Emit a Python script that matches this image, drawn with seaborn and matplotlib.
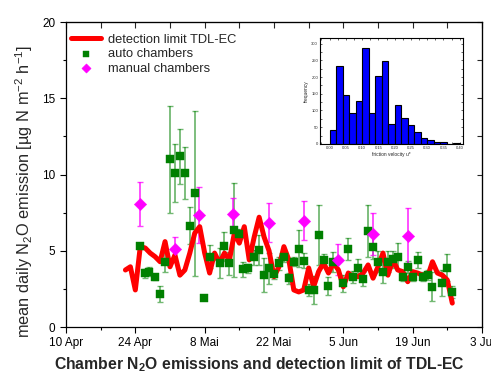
import matplotlib
matplotlib.use("Agg")
import matplotlib.pyplot as plt
import seaborn as sns
import pandas as pd
from matplotlib.ticker import MultipleLocator

# ── data (x = days after 10 Apr) ─────────────────────────────
tick_days   = [0, 14, 28, 42, 56, 70, 84]
tick_labels = ["10 Apr", "24 Apr", "8 Mai", "22 Mai", "5 Jun", "19 Jun", "3 Jul"]

limit_day = list(range(12, 79))
limit_val = [3.74, 3.95, 2.43, 5.27, 5.18, 4.85, 4.61, 4.28, 5.6, 3.95,
             4.72, 3.4, 3.74, 4.85, 6.16, 6.58, 4.85, 3.54, 4.85, 4.2,
             4.85, 4.4, 6.16, 5.5, 6.58, 4.4, 5.9, 7.2, 5.9, 5.0,
             3.3, 3.95, 5.27, 4.4, 2.43, 2.3, 2.43, 3.87, 2.64, 3.63,
             4.2, 3.54, 4.2, 3.74, 2.64, 3.54, 3.3, 3.3, 3.54, 4.07,
             3.2, 3.95, 4.85, 3.4, 4.4, 3.74, 3.63, 2.97, 3.63, 3.54,
             3.4, 3.3, 4.28, 3.54, 3.4, 3.08, 1.57]

auto_day = [14.9, 16, 16.8, 18, 19, 20, 21, 22, 23, 24, 25, 26, 27.9, 29, 31,
            32, 33, 34, 35, 35.8, 36.8, 38, 39, 40, 41, 42, 43, 44, 45, 46,
            47, 48, 49, 50, 51, 52, 53, 54, 56, 57, 58, 59, 60, 61, 62, 63,
            64, 65, 66, 67, 68, 69, 70, 71, 72, 73, 74, 76, 77, 78]
auto_val = [5.33, 3.52, 3.63, 3.26, 2.16, 4.28, 11.0, 10.08, 11.2, 10.08, 6.64,
            8.77, 1.92, 4.61, 4.2, 5.3, 4.17, 6.36, 6.1, 3.78, 3.85, 4.56,
            5.05, 3.4, 3.85, 3.45, 4.17, 4.56, 3.19, 4.28, 5.14, 4.35, 2.43,
            2.43, 6.03, 4.4, 2.69, 4.28, 2.86, 5.11, 3.26, 3.85, 3.13, 6.32,
            5.27, 4.28, 3.63, 4.28, 4.43, 4.61, 3.3, 3.91, 3.3, 4.4, 3.3,
            3.41, 2.64, 2.91, 3.89, 2.32]
auto_err = [0.2, 0.3, 0.3, 0.2, 0.5, 0.7, 3.5, 1.9, 1.8, 1.7, 1.2, 5.4, 0.0,
            0.77, 1.0, 0.95, 0.75, 3.1, 0.3, 0.5, 0.3, 0.5, 1.0, 1.1, 1.0,
            0.3, 0.4, 0.3, 0.35, 0.3, 1.2, 0.5, 0.4, 0.9, 1.95, 0.4, 0.6,
            0.65, 0.55, 0.7, 0.4, 0.6, 0.45, 1.7, 0.8, 0.7, 0.75, 0.7, 0.55,
            0.9, 0.3, 0.4, 0.3, 0.5, 0.3, 0.3, 0.95, 0.85, 0.9, 0.4]

manual_day = [14.9, 22, 26.9, 33.8, 41, 48, 55, 62, 69]
manual_val = [8.07, 5.11, 7.34, 7.38, 6.84, 6.98, 4.4, 6.1, 6.0]
manual_err = [1.47, 0.82, 1.86, 1.1, 1.26, 1.3, 1.02, 1.4, 1.78]

# inset histogram of friction velocity
ustar_edges  = [round(0.02 * i, 2) for i in range(21)]
ustar_counts = [43, 233, 147, 92, 128, 288, 92, 202, 248, 61,
                116, 78, 57, 35, 18, 13, 6, 6, 0, 3]

# ── figure ────────────────────────────────────────────────────
sns.set_style("white")
plt.rcParams["font.family"] = ["Liberation Sans", "DejaVu Sans"]
plt.rcParams["mathtext.fontset"] = "custom"
plt.rcParams["mathtext.rm"] = "Liberation Sans"
plt.rcParams["mathtext.bf"] = "Liberation Sans:bold"

fig = plt.figure(figsize=(4.91, 3.86), dpi=100)
ax = fig.add_axes([0.1344, 0.1528, 0.8473, 0.7902])

ax.errorbar(auto_day, auto_val, yerr=auto_err, fmt="none",
            ecolor=(0.0, 0.5, 0.0, 0.55), elinewidth=1.3, capsize=2.5,
            capthick=1.0, zorder=2)
ax.errorbar(manual_day, manual_val, yerr=manual_err, fmt="none",
            ecolor=(1.0, 0.0, 1.0, 0.75), elinewidth=1.3, capsize=2.5,
            capthick=1.0, zorder=2)

limit_df = pd.DataFrame({"day": limit_day, "val": limit_val})
sns.lineplot(data=limit_df, x="day", y="val", color="#ff0000", linewidth=3.6,
             label="detection limit TDL-EC", ax=ax, zorder=3)
sns.scatterplot(x=auto_day, y=auto_val, marker="s", s=38, color="#008000",
                edgecolor="#008000", linewidth=0.3, label="auto chambers",
                ax=ax, zorder=4)
sns.scatterplot(x=manual_day, y=manual_val, marker="D", s=40, color="#ff00ff",
                edgecolor="#ff00ff", linewidth=0.3, label="manual chambers",
                ax=ax, zorder=5)

ax.set_xlim(0, 84)
ax.set_ylim(0, 20)
ax.set_xticks(tick_days)
ax.set_xticklabels(tick_labels)
ax.xaxis.set_minor_locator(MultipleLocator(7))
ax.yaxis.set_major_locator(MultipleLocator(5))
ax.yaxis.set_minor_locator(MultipleLocator(2.5))
ax.tick_params(which="both", direction="out", bottom=True, left=True,
               labelsize=8.5, width=0.8, colors="black")
ax.tick_params(which="major", length=4)
ax.tick_params(which="minor", length=2.5)
for s in ax.spines.values():
    s.set_color("black"); s.set_linewidth(0.9)

# inward ticks on top and right
top = ax.secondary_xaxis("top")
top.set_xticks(tick_days); top.set_xticklabels([])
top.xaxis.set_minor_locator(MultipleLocator(7))
top.tick_params(which="both", direction="in", length=4, width=0.8)
right = ax.secondary_yaxis("right")
right.yaxis.set_major_locator(MultipleLocator(5))
right.yaxis.set_minor_locator(MultipleLocator(2.5))
right.set_yticklabels([])
right.tick_params(which="both", direction="in", length=3.5, width=0.8)

ax.set_ylabel(r"mean daily N$_2$O emission [µg N m$^{-2}$ h$^{-1}$]",
              fontsize=11.8)
ax.yaxis.set_label_coords(-0.075, 0.444)
ax.set_xlabel(r"Chamber N$_\mathbf{2}$O emissions and detection limit of TDL-EC",
              fontsize=11.3, fontweight="bold")
ax.xaxis.set_label_coords(0.466, -0.093)

leg = ax.legend(loc="upper left", bbox_to_anchor=(0.012, 0.962),
                frameon=False, fontsize=9.3, handlelength=2.35,
                handletextpad=0.5, labelspacing=0.2, borderaxespad=0,
                borderpad=0, markerscale=0.75)

# ── inset histogram ───────────────────────────────────────────
ins = fig.add_axes([0.652, 0.627, 0.291, 0.275])
centers = [(a + b) / 2 for a, b in zip(ustar_edges[:-1], ustar_edges[1:])]
sns.histplot(x=centers, weights=ustar_counts, bins=ustar_edges,
             color="#0000ff", edgecolor="black", linewidth=0.8, alpha=1,
             ax=ins)
ins.set_xlim(-0.029, 0.41)
ins.set_ylim(0, 317)
ins.xaxis.set_major_locator(MultipleLocator(0.05))
ins.xaxis.set_minor_locator(MultipleLocator(0.025))
ins.yaxis.set_major_locator(MultipleLocator(50))
ins.yaxis.set_minor_locator(MultipleLocator(25))
ins.xaxis.set_major_formatter(plt.FormatStrFormatter("%.2f"))
ins.tick_params(which="both", direction="in", labelsize=3, length=1.5,
                width=0.5, pad=1.5, top=True, right=True, bottom=True,
                left=True)
ins.set_xlabel("friction velocity u*", fontsize=3.5, labelpad=1.5)
ins.set_ylabel("frequency", fontsize=3.5, labelpad=1.5)
for s in ins.spines.values():
    s.set_color("black"); s.set_linewidth(0.8)

fig.savefig("out.png", dpi=100)
plt.close(fig)
